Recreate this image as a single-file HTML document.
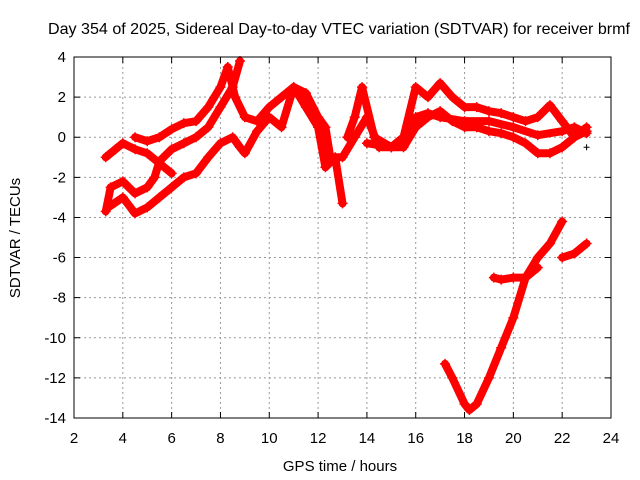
<!DOCTYPE html>
<html><head><meta charset="utf-8"><style>
body{margin:0;background:#fff}
svg{display:block;font-family:"Liberation Sans",sans-serif}
</style></head><body>
<svg id="c" width="640" height="480">
<rect width="640" height="480" fill="#fff"/>
<text x="339" y="34" text-anchor="middle" font-size="16" textLength="582" lengthAdjust="spacingAndGlyphs">Day 354 of 2025, Sidereal Day-to-day VTEC variation (SDTVAR) for receiver brmf</text>
<text x="340" y="471" text-anchor="middle" font-size="15">GPS time / hours</text>
<text transform="translate(20,238) rotate(-90)" text-anchor="middle" font-size="15">SDTVAR / TECUs</text>
<g id="grid"></g><g id="ticks"></g><g id="series"></g>
<rect x="74" y="57" width="537" height="361" fill="none" stroke="#000" stroke-width="1"/>
</svg>
<script>
const xTicks=[2,4,6,8,10,12,14,16,18,20,22,24];
const yTicks=[4,2,0,-2,-4,-6,-8,-10,-12,-14];
const trackA=[[3.3,-3.7],[3.5,-2.5],[4,-2.2],[4.5,-2.8],[5,-2.5],[5.3,-2],[5.5,-1.2],[6,-0.6],[6.5,-0.3],[7,0],[7.5,0.5],[8,1.5],[8.5,2.5],[8.8,3.8]];
const trackB=[[3.3,-1],[3.7,-0.6],[4,-0.3],[4.5,-0.6],[5,-0.8],[5.5,-1.3],[6,-1.8]];
const trackB2=[[4.5,0],[5,-0.2],[5.5,0],[6,0.4],[6.5,0.7],[7,0.8],[7.5,1.5],[8,2.5],[8.3,3.5],[8.6,2],[9,1]];
const trackC=[[3.4,-3.5],[4,-3],[4.5,-3.8],[5,-3.5],[5.5,-3],[6,-2.5],[6.5,-2],[7,-1.8],[7.5,-1],[8,-0.3],[8.5,0],[8.8,-0.5],[9,-0.8],[9.5,0.3],[10,1],[10.5,0.5],[11,2.5],[11.5,1.5],[12,0.5],[12.3,-1.5],[12.7,-1],[13,-3.3]];
const trackD=[[9,1],[9.5,0.8],[10,1.5],[10.5,2],[11,2.5],[11.5,2.2],[12,1],[12.3,0.5],[12.5,-1],[13,-1],[13.5,0],[14,1],[14.5,-0.5],[15,-0.5],[15.5,0],[16,2.5],[16.5,2],[17,2.7],[17.5,2],[18,1.5],[18.5,1.5],[19,1.3],[19.5,1.2],[20,1],[20.5,0.8],[21,1],[21.5,1.6],[22,0.8],[22.5,0],[23,0.3]];
const trackE=[[13.2,0],[13.5,1],[13.8,2.5],[14.3,0],[15,-0.5],[15.5,-0.5],[16,0.5],[16.5,1],[17,1.3],[17.5,0.8],[18,0.5],[18.5,0.5],[19,0.3],[19.5,0.2],[20,0],[20.5,-0.3],[21,-0.8],[21.5,-0.8],[22,-0.5],[22.5,0],[23,0.5]];
const trackF=[[14,-0.3],[15,-0.5],[15.5,0],[16,1],[16.5,1.2],[17,1],[18,0.8],[19,0.8],[20,0.5],[21,0.1],[22,0.3],[22.5,0.5],[23,0.2]];
const trackG=[[17.2,-11.3],[17.5,-12],[18,-13.3],[18.2,-13.6],[18.5,-13.3],[19,-12],[19.5,-10.5],[20,-9],[20.5,-7],[21,-6],[21.5,-5.3],[22,-4.2]];
const trackH=[[19.2,-7],[19.5,-7.1],[20,-7],[20.5,-7],[21,-6.5]];
const trackI=[[22,-6],[22.5,-5.8],[23,-5.3]];
const outlier=[[23,-0.5]];
const tracks=[trackA,trackB,trackB2,trackC,trackD,trackE,trackF,trackG,trackH,trackI];
const X=v=>74+(v-2)*537/22, Y=v=>57+(4-v)*361/18;
const NS='http://www.w3.org/2000/svg';
const mk=(t,a,p)=>{const e=document.createElementNS(NS,t);for(const k in a)e.setAttribute(k,a[k]);p.appendChild(e);return e;};
const g=document.getElementById('grid'),tk=document.getElementById('ticks'),s=document.getElementById('series');
xTicks.forEach(v=>{
 const l=mk('line',{x1:X(v),x2:X(v),y1:57,y2:418,stroke:'#999','stroke-dasharray':'2,3'},g);
 
 
 mk('path',{d:`M${X(v)},418v-6M${X(v)},57v6`,stroke:'#000'},tk);
 const t=mk('text',{x:X(v),y:443,'text-anchor':'middle','font-size':15},tk);t.textContent=v;
 
 
});
yTicks.forEach(v=>{
 const l=mk('line',{x1:74,x2:611,y1:Y(v),y2:Y(v),stroke:'#999','stroke-dasharray':'2,3'},g);
 
 
 mk('path',{d:`M74,${Y(v)}h6M611,${Y(v)}h-6`,stroke:'#000'},tk);
 const t=mk('text',{x:66,y:Y(v)+5,'text-anchor':'end','font-size':15},tk);t.textContent=v;
 
 
});
tracks.forEach(tr=>{
 const p=mk('polyline',{points:tr.map(d=>X(d[0])+','+Y(d[1])).join(' '),fill:'none',stroke:'#f00','stroke-width':8,'stroke-linejoin':'round','stroke-linecap':'round'},s);
 
 
 tr.forEach(d=>{
  const c=mk('path',{d:`M${X(d[0])-5},${Y(d[1])}h10M${X(d[0])},${Y(d[1])-5}v10`,stroke:'#f00','stroke-width':1.5},s);
  
  
 });
});
outlier.forEach(d=>{
 const c=mk('path',{d:`M${X(d[0])-3},${Y(d[1])}h6M${X(d[0])},${Y(d[1])-3}v6`,stroke:'#000','stroke-width':1},s);
 
 
});
</script>
</body></html>
